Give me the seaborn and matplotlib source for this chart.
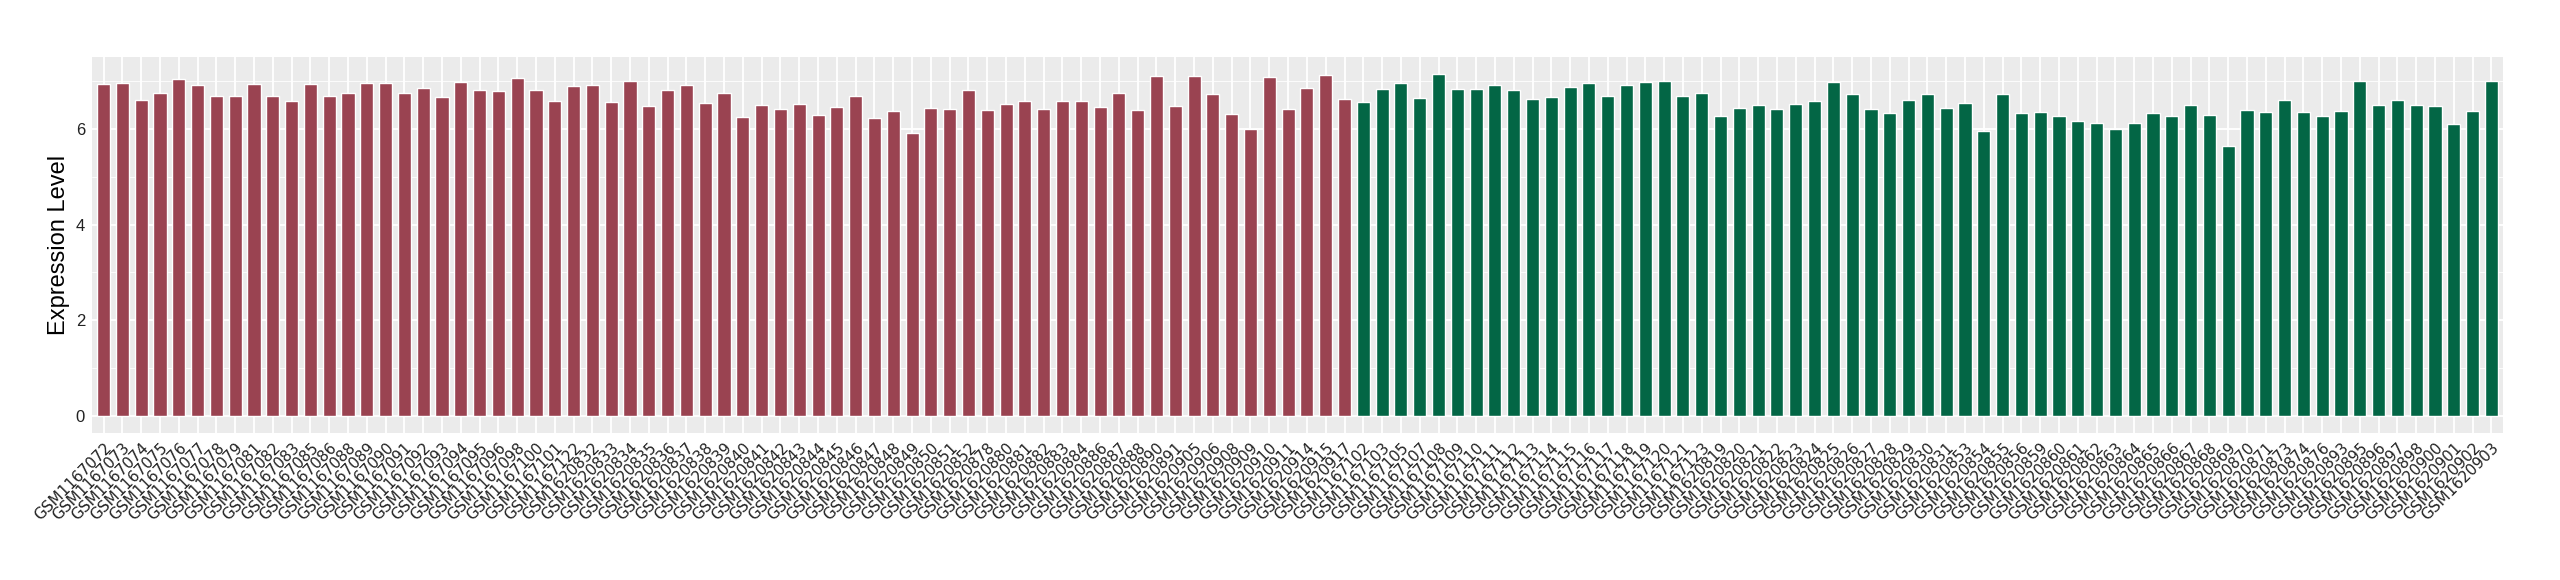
import pandas as pd
import matplotlib
matplotlib.use("Agg")
import matplotlib.pyplot as plt
import seaborn as sns
from matplotlib.ticker import MultipleLocator

# ============================================
# Data
# ============================================

group_a_samples = [
    "GSM1167072", "GSM1167073", "GSM1167074", "GSM1167075", "GSM1167076",
    "GSM1167077", "GSM1167078", "GSM1167079", "GSM1167081", "GSM1167082",
    "GSM1167083", "GSM1167085", "GSM1167086", "GSM1167088", "GSM1167089",
    "GSM1167090", "GSM1167091", "GSM1167092", "GSM1167093", "GSM1167094",
    "GSM1167095", "GSM1167096", "GSM1167098", "GSM1167100", "GSM1167101",
    "GSM1167122", "GSM1620832", "GSM1620833", "GSM1620834", "GSM1620835",
    "GSM1620836", "GSM1620837", "GSM1620838", "GSM1620839", "GSM1620840",
    "GSM1620841", "GSM1620842", "GSM1620843", "GSM1620844", "GSM1620845",
    "GSM1620846", "GSM1620847", "GSM1620848", "GSM1620849", "GSM1620850",
    "GSM1620851", "GSM1620852", "GSM1620878", "GSM1620880", "GSM1620881",
    "GSM1620882", "GSM1620883", "GSM1620884", "GSM1620886", "GSM1620887",
    "GSM1620888", "GSM1620890", "GSM1620891", "GSM1620905", "GSM1620906",
    "GSM1620908", "GSM1620909", "GSM1620910", "GSM1620911", "GSM1620914",
    "GSM1620915", "GSM1620917",
]
group_a_values = [
    6.95, 6.97, 6.61, 6.76, 7.05, 6.93, 6.70, 6.70, 6.95, 6.70,
    6.59, 6.95, 6.70, 6.76, 6.97, 6.97, 6.76, 6.86, 6.68, 6.99,
    6.82, 6.80, 7.07, 6.82, 6.59, 6.91, 6.93, 6.57, 7.01, 6.49,
    6.82, 6.93, 6.55, 6.76, 6.26, 6.51, 6.43, 6.53, 6.30, 6.47,
    6.70, 6.24, 6.38, 5.92, 6.45, 6.43, 6.82, 6.40, 6.53, 6.59,
    6.43, 6.59, 6.59, 6.47, 6.76, 6.40, 7.12, 6.49, 7.12, 6.74,
    6.32, 6.01, 7.09, 6.43, 6.86, 7.14, 6.63,
]

group_b_samples = [
    "GSM1167102", "GSM1167103", "GSM1167105", "GSM1167107", "GSM1167108",
    "GSM1167109", "GSM1167110", "GSM1167111", "GSM1167112", "GSM1167113",
    "GSM1167114", "GSM1167115", "GSM1167116", "GSM1167117", "GSM1167118",
    "GSM1167119", "GSM1167120", "GSM1167121", "GSM1167123", "GSM1620819",
    "GSM1620820", "GSM1620821", "GSM1620822", "GSM1620823", "GSM1620824",
    "GSM1620825", "GSM1620826", "GSM1620827", "GSM1620828", "GSM1620829",
    "GSM1620830", "GSM1620831", "GSM1620853", "GSM1620854", "GSM1620855",
    "GSM1620856", "GSM1620859", "GSM1620860", "GSM1620861", "GSM1620862",
    "GSM1620863", "GSM1620864", "GSM1620865", "GSM1620866", "GSM1620867",
    "GSM1620868", "GSM1620869", "GSM1620870", "GSM1620871", "GSM1620873",
    "GSM1620874", "GSM1620876", "GSM1620893", "GSM1620895", "GSM1620896",
    "GSM1620897", "GSM1620898", "GSM1620900", "GSM1620901", "GSM1620902",
    "GSM1620903",
]
group_b_values = [
    6.57, 6.84, 6.97, 6.66, 7.16, 6.84, 6.84, 6.93, 6.82, 6.63,
    6.68, 6.89, 6.97, 6.70, 6.93, 6.99, 7.01, 6.70, 6.76, 6.28,
    6.45, 6.51, 6.43, 6.53, 6.59, 6.99, 6.74, 6.43, 6.34, 6.61,
    6.74, 6.45, 6.55, 5.97, 6.74, 6.34, 6.36, 6.28, 6.17, 6.13,
    6.01, 6.13, 6.34, 6.28, 6.51, 6.30, 5.65, 6.40, 6.36, 6.61,
    6.36, 6.28, 6.38, 7.01, 6.51, 6.61, 6.51, 6.49, 6.11, 6.38,
    7.01,
]

group_colors = {"A": "#9A4351", "B": "#036645"}

df = pd.DataFrame({
    "sample": group_a_samples + group_b_samples,
    "value": group_a_values + group_b_values,
    "group": ["A"] * len(group_a_samples) + ["B"] * len(group_b_samples),
})

# ============================================
# Plot
# ============================================

sns.set_theme(style="darkgrid", rc={
    "axes.facecolor": "#EBEBEB",
    "grid.color": "white",
})
plt.rcParams["font.family"] = ["DejaVu Sans"]

fig = plt.figure(figsize=(25.6, 5.8), dpi=100)
ax = fig.add_axes([92 / 2560, 1 - 433 / 580, (2503 - 92) / 2560, (433 - 57) / 580])

sns.barplot(
    data=df, x="sample", y="value", hue="group",
    palette=group_colors, dodge=False, width=0.7, saturation=1,
    legend=False, ax=ax, zorder=3,
)

ax.set_xlim(-0.62, len(df) - 1 + 0.62)
ax.set_ylim(-0.36, 7.51)
ax.yaxis.set_major_locator(MultipleLocator(2))
ax.yaxis.set_minor_locator(MultipleLocator(1))
ax.grid(which="major", color="white", linewidth=1.3)
ax.grid(which="minor", axis="y", color="white", linewidth=0.6)
ax.set_axisbelow(True)
for s in ax.spines.values():
    s.set_visible(False)

ax.tick_params(axis="both", which="major", length=3, width=0.8,
               color="#333333", labelsize=11, labelcolor="#222222", pad=2)
ax.tick_params(axis="y", which="minor", length=0)
plt.setp(ax.get_xticklabels(), rotation=45, ha="right",
         rotation_mode="anchor", fontsize=11)
plt.setp(ax.get_yticklabels(), family="Liberation Sans", fontsize=12)

ax.set_xlabel("")
ax.set_ylabel("Expression Level", fontsize=17, color="black", labelpad=4,
              family="Liberation Sans")

plt.savefig("out.png", dpi=100)
